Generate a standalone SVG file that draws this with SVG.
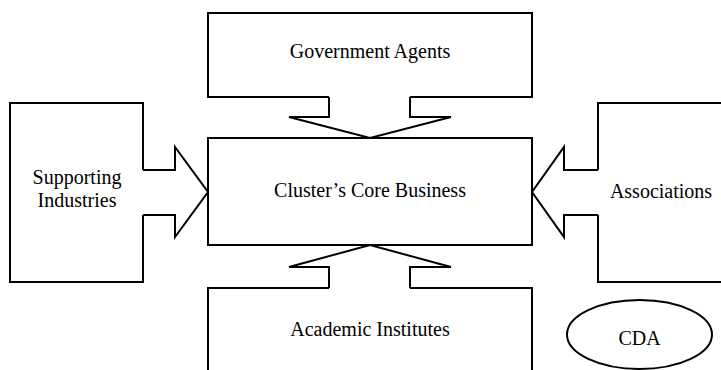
<svg xmlns="http://www.w3.org/2000/svg" width="721" height="370" viewBox="0 0 721 370">
<style>
.s{fill:#fff;stroke:#000;stroke-width:2;stroke-linejoin:miter}
.t{font-family:"Liberation Serif","Times New Roman",serif;font-size:20px;fill:#000;text-anchor:middle}
</style>
<rect width="721" height="370" fill="#fff"/>
<g id="connectors">
<path class="s" d="M329,97 L329,117 L289,117 L370,138 L451,117 L410,117 L410,97"/>
<path class="s" d="M143,170 L175,170 L175,147 L208,192 L175,237 L175,215 L143,215"/>
<path class="s" d="M598,170 L564,170 L564,147 L532,192 L564,237 L564,215 L598,215"/>
<path class="s" d="M329,288 L329,267 L289,267 L370,245 L451,267 L410,267 L410,288"/>
</g>
<g id="government">
<path class="s" d="M329,97 L208,97 L208,13 L532,13 L532,97 L410,97"/>
<text class="t" x="370" y="58">Government Agents</text>
</g>
<g id="core">
<rect class="s" x="208" y="138" width="324" height="107" fill="none"/>
<text class="t" x="370" y="197">Cluster’s Core Business</text>
</g>
<g id="supporting">
<path class="s" d="M143,170 L143,103 L10,103 L10,282 L143,282 L143,215"/>
<text class="t" x="77" y="184">Supporting</text>
<text class="t" x="77" y="207">Industries</text>
</g>
<g id="associations">
<path class="s" d="M598,170 L598,103 L725,103 M725,282 L598,282 L598,215" fill="none"/>
<text class="t" x="661" y="198">Associations</text>
</g>
<g id="academic">
<path class="s" d="M329,288 L208,288 L208,375 M532,375 L532,288 L410,288" fill="none"/>
<text class="t" x="370" y="336">Academic Institutes</text>
</g>
<g id="cda">
<ellipse class="s" cx="639.5" cy="334.5" rx="72.5" ry="34.5"/>
<text class="t" x="639.5" y="345">CDA</text>
</g>
</svg>
